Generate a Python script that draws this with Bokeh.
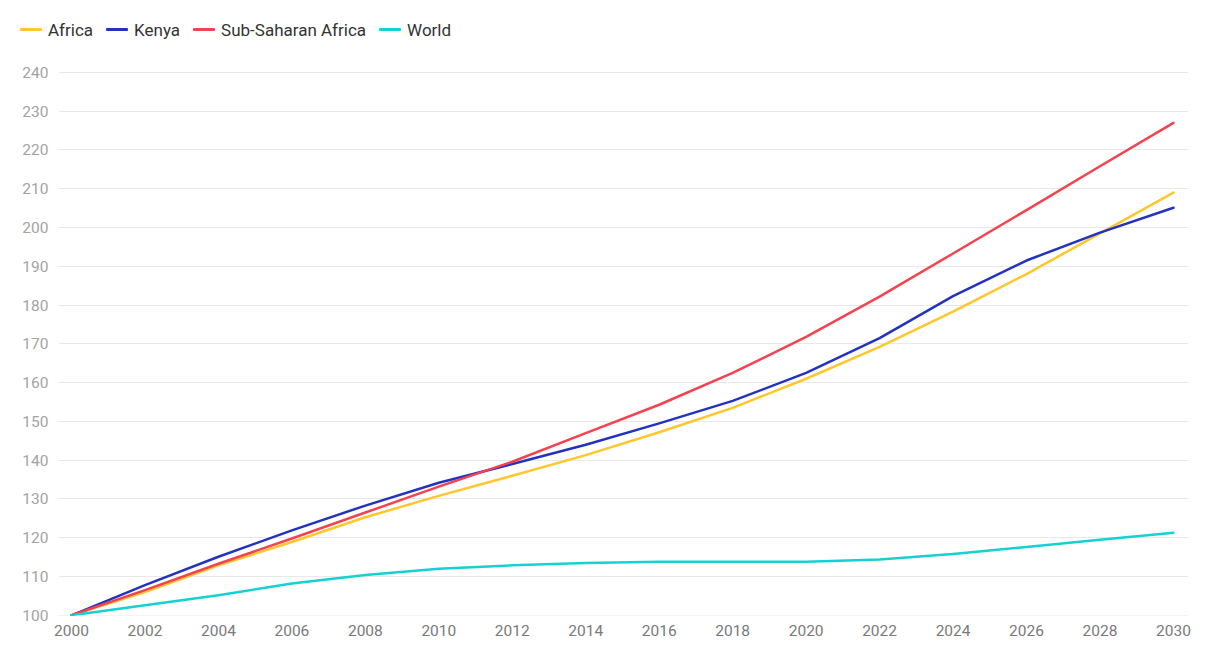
from bokeh.plotting import figure
from bokeh.layouts import column
from bokeh.models import Range1d, FixedTicker, Div
from bokeh.embed import file_html
from bokeh.resources import INLINE

years = [2000, 2002, 2004, 2006, 2008, 2010, 2012, 2014, 2016, 2018, 2020, 2022, 2024, 2026, 2028, 2030]
africa = [100, 106, 112.9, 118.9, 125.3, 130.8, 136, 141.3, 147.2, 153.5, 161, 169.2, 178.3, 188, 198.5, 209]
kenya = [100, 107.8, 115.1, 121.9, 128.3, 134.2, 139, 144, 149.5, 155.3, 162.5, 171.5, 182.3, 191.5, 198.7, 205.1]
ssa = [100, 106.5, 113.3, 119.8, 126.5, 133.2, 139.6, 147, 154.3, 162.5, 171.8, 182.2, 193.3, 204.5, 215.8, 227]
world = [100, 102.6, 105.2, 108.2, 110.4, 112, 112.9, 113.5, 113.8, 113.8, 113.8, 114.4, 115.8, 117.6, 119.5, 121.3]

series_names = ["Africa", "Kenya", "Sub-Saharan Africa", "World"]
series_values = [africa, kenya, ssa, world]
colors = ["#ffc72c", "#2433bf", "#f4424f", "#14d2d2"]

y_ticks = list(range(100, 250, 10))
x_ticks = list(range(2000, 2031, 2))

# legend strip (HTML)
parts = []
for name, c in zip(series_names, colors):
    parts.append(
        '<span style="display:inline-block;width:22px;height:3px;border-radius:1px;'
        'background:%s;margin-right:6px;vertical-align:middle"></span>'
        '<span style="margin-right:13px;vertical-align:middle">%s</span>' % (c, name))
legend_html = ('<div style="font-family:Roboto;font-size:17px;color:#333333;'
               'line-height:20px;height:20px;padding-top:18px;padding-left:20px;white-space:nowrap">'
               + "".join(parts) + '</div>')
legend_div = Div(text=legend_html, width=1200, height=50, margin=0)

# main chart
p = figure(width=1200, height=598, output_backend="svg", toolbar_location=None,
           x_range=Range1d(1999.646, 2030.41), y_range=Range1d(99.95, 240.5),
           min_border_left=58, min_border_right=12, min_border_top=20, min_border_bottom=33)
p.outline_line_color = None
p.background_fill_color = "white"
p.border_fill_color = "white"

for name, vals, c in zip(series_names, series_values, colors):
    p.line(years, vals, line_color=c, line_width=2.5, line_join="round", line_cap="round")

p.xgrid.visible = False
p.ygrid.grid_line_color = "#e8e8e8"
p.ygrid.grid_line_width = 1.2
p.ygrid.ticker = FixedTicker(ticks=y_ticks)

p.yaxis.ticker = FixedTicker(ticks=y_ticks)
p.xaxis.ticker = FixedTicker(ticks=x_ticks)
for ax in (p.xaxis, p.yaxis):
    ax.axis_line_color = None
    ax.major_tick_line_color = None
    ax.minor_tick_line_color = None
    ax.major_tick_out = 0
    ax.major_tick_in = 0
    ax.major_label_text_font = "Roboto"
    ax.major_label_text_font_size = "15.5px"
p.yaxis.major_label_standoff = 10
p.xaxis.major_label_standoff = 9
p.yaxis.major_label_text_color = "#a3a3a3"
p.xaxis.major_label_text_color = "#7a7a7a"

layout = column(legend_div, p, spacing=0)
open("out.html", "w").write(file_html(layout, INLINE))
